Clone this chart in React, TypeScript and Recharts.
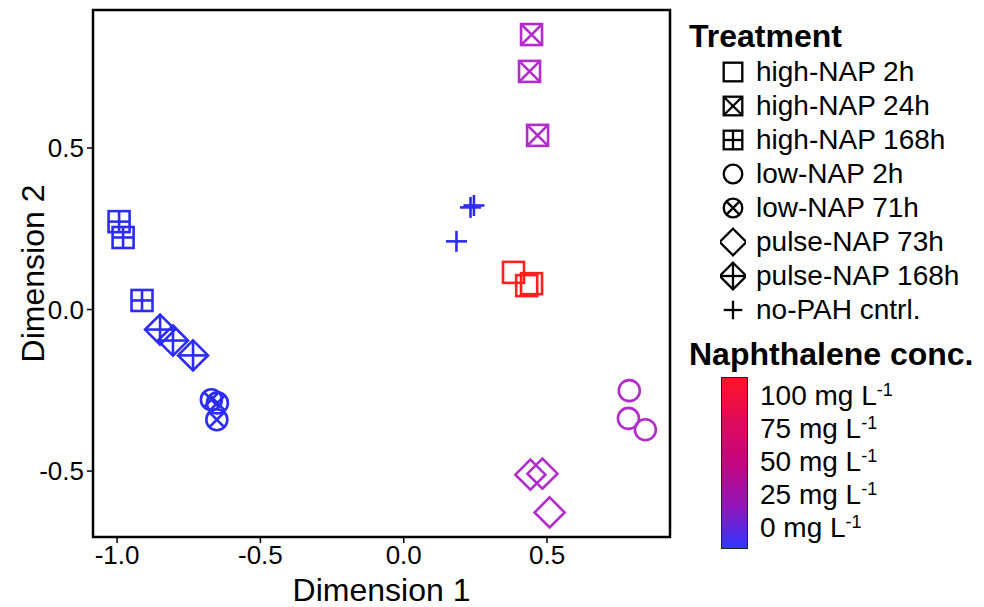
import React from 'react';
import { ScatterChart, Scatter, XAxis, YAxis, ReferenceArea } from 'recharts';

// NMDS coordinates
const highNap2h = [{ x: 0.383, y: 0.115 }, { x: 0.429, y: 0.074 }, { x: 0.446, y: 0.080 }];
const highNap24h = [{ x: 0.446, y: 0.851 }, { x: 0.439, y: 0.737 }, { x: 0.467, y: 0.539 }];
const highNap168h = [{ x: -0.993, y: 0.272 }, { x: -0.979, y: 0.223 }, { x: -0.913, y: 0.028 }];
const lowNap2h = [{ x: 0.787, y: -0.251 }, { x: 0.784, y: -0.337 }, { x: 0.843, y: -0.372 }];
const lowNap71h = [{ x: -0.671, y: -0.279 }, { x: -0.650, y: -0.289 }, { x: -0.652, y: -0.341 }];
const pulseNap73h = [{ x: 0.442, y: -0.511 }, { x: 0.484, y: -0.508 }, { x: 0.509, y: -0.628 }];
const pulseNap168h = [{ x: -0.850, y: -0.062 }, { x: -0.805, y: -0.096 }, { x: -0.735, y: -0.142 }];
const noPah = [{ x: 0.233, y: 0.316 }, { x: 0.245, y: 0.322 }, { x: 0.184, y: 0.211 }];

const treatmentNames = ['high-NAP 2h', 'high-NAP 24h', 'high-NAP 168h', 'low-NAP 2h', 'low-NAP 71h', 'pulse-NAP 73h', 'pulse-NAP 168h', 'no-PAH cntrl.'];
const treatmentShapes = ['square', 'squareX', 'squarePlus', 'circle', 'circleX', 'diamond', 'diamondPlus', 'plus'];
const treatmentColors = ['#ff2020', '#b22ccc', '#2c2cf6', '#b22ccc', '#2c2cf6', '#b22ccc', '#2c2cf6', '#2c2cf6'];
const treatmentData = [highNap2h, highNap24h, highNap168h, lowNap2h, lowNap71h, pulseNap73h, pulseNap168h, noPah];

const concLabels = ['100', '75', '50', '25', '0'];

const xTicks = [-1, -0.5, 0, 0.5];
const yTicks = [-0.5, 0, 0.5];
const xDomain = [-1.084, 0.929];
const yDomain = [-0.704, 0.927];

const FONT = '"Liberation Sans", Arial, sans-serif';

function Marker({ kind, color, cx, cy, s, sw }: any) {
  const d = s * 1.43;
  const c = s * 0.707;
  const p = { stroke: color, strokeWidth: sw, fill: 'none' };
  switch (kind) {
    case 'square':
      return <rect x={cx - s} y={cy - s} width={2 * s} height={2 * s} {...p} />;
    case 'squareX':
      return (
        <g {...p}>
          <rect x={cx - s} y={cy - s} width={2 * s} height={2 * s} />
          <line x1={cx - s} y1={cy - s} x2={cx + s} y2={cy + s} />
          <line x1={cx - s} y1={cy + s} x2={cx + s} y2={cy - s} />
        </g>
      );
    case 'squarePlus':
      return (
        <g {...p}>
          <rect x={cx - s} y={cy - s} width={2 * s} height={2 * s} />
          <line x1={cx} y1={cy - s} x2={cx} y2={cy + s} />
          <line x1={cx - s} y1={cy} x2={cx + s} y2={cy} />
        </g>
      );
    case 'circle':
      return <circle cx={cx} cy={cy} r={s} {...p} />;
    case 'circleX':
      return (
        <g {...p}>
          <circle cx={cx} cy={cy} r={s} />
          <line x1={cx - c} y1={cy - c} x2={cx + c} y2={cy + c} />
          <line x1={cx - c} y1={cy + c} x2={cx + c} y2={cy - c} />
        </g>
      );
    case 'diamond':
      return <polygon points={`${cx},${cy - d} ${cx + d},${cy} ${cx},${cy + d} ${cx - d},${cy}`} {...p} />;
    case 'diamondPlus':
      return (
        <g {...p}>
          <polygon points={`${cx},${cy - d} ${cx + d},${cy} ${cx},${cy + d} ${cx - d},${cy}`} />
          <line x1={cx} y1={cy - d} x2={cx} y2={cy + d} />
          <line x1={cx - d} y1={cy} x2={cx + d} y2={cy} />
        </g>
      );
    default:
      return (
        <g {...p}>
          <line x1={cx} y1={cy - s} x2={cx} y2={cy + s} />
          <line x1={cx - s} y1={cy} x2={cx + s} y2={cy} />
        </g>
      );
  }
}

const makeShape = (kind: string, color: string) => (props: any) => (
  <Marker kind={kind} color={color} cx={props.cx} cy={props.cy} s={10.5} sw={2.6} />
);

function TreatmentLegend() {
  return (
    <div style={{ position: 'absolute', left: 689, top: 19, fontFamily: FONT, color: '#000' }}>
      <div style={{ fontWeight: 700, fontSize: 32, lineHeight: '34px', height: 36, whiteSpace: 'nowrap' }}>Treatment</div>
      {treatmentNames.map((name, i) => (
        <div key={name} style={{ display: 'flex', alignItems: 'center', height: 34, fontSize: 28, whiteSpace: 'nowrap' }}>
          <svg width={26} height={30} style={{ marginLeft: 31, marginRight: 10 }}>
            <Marker kind={treatmentShapes[i]} color="#000" cx={13} cy={15} s={9.3} sw={2.3} />
          </svg>
          <span style={{ lineHeight: '34px' }}>{name}</span>
        </div>
      ))}
      <div style={{ fontWeight: 700, fontSize: 32, lineHeight: '34px', height: 34, marginTop: 10, whiteSpace: 'nowrap' }}>
        Naphthalene conc.
      </div>
      <div style={{ position: 'relative', height: 180, marginTop: 6 }}>
        <div
          style={{
            position: 'absolute', left: 32, top: 0, width: 25, height: 170,
            border: '1.5px solid #222',
            background: 'linear-gradient(to bottom, #ff1428 0%, #e00a5a 25%, #c4067f 50%, #9215b8 75%, #3036ff 100%)',
          }}
        />
        {concLabels.map((lab, i) => (
          <div key={lab} style={{ position: 'absolute', left: 71, top: 19 + i * 33 - 17, fontSize: 28, lineHeight: '34px', whiteSpace: 'nowrap' }}>
            {lab} mg L<sup style={{ fontSize: 18, verticalAlign: 'top', lineHeight: '22px' }}>-1</sup>
          </div>
        ))}
      </div>
    </div>
  );
}

export default function App() {
  const tickStyle = { fill: '#000', fontSize: 26, fontFamily: FONT };
  return (
    <div style={{ position: 'absolute', left: 0, top: 0, width: 984, height: 607, background: '#fff', fontFamily: FONT }}>
      <ScatterChart width={984} height={607} margin={{ top: 10, right: 314, bottom: 10, left: 0 }}>
        <XAxis
          type="number" dataKey="x" domain={xDomain} ticks={xTicks} allowDataOverflow
          tickFormatter={(v) => v.toFixed(1)} height={60} tick={tickStyle}
          axisLine={{ stroke: '#000', strokeWidth: 2 }} tickLine={{ stroke: '#000', strokeWidth: 1.5 }}
          tickSize={6} tickMargin={3}
          label={{ value: 'Dimension 1', position: 'center', dy: 23, fill: '#000', fontSize: 32, fontFamily: FONT }}
        />
        <YAxis
          type="number" dataKey="y" domain={yDomain} ticks={yTicks} allowDataOverflow
          tickFormatter={(v) => v.toFixed(1)} width={93} tick={tickStyle}
          axisLine={{ stroke: '#000', strokeWidth: 2 }} tickLine={{ stroke: '#000', strokeWidth: 1.5 }}
          tickSize={6} tickMargin={3}
          label={{ value: 'Dimension 2', position: 'center', angle: -90, dx: -14, fill: '#000', fontSize: 32, fontFamily: FONT }}
        />
        <ReferenceArea x1={xDomain[0]} x2={xDomain[1]} y1={yDomain[0]} y2={yDomain[1]} fill="none" stroke="#000" strokeWidth={2.5} fillOpacity={0} />
        {treatmentData.map((data, i) => (
          <Scatter
            key={treatmentNames[i]}
            name={treatmentNames[i]}
            data={data}
            shape={makeShape(treatmentShapes[i], treatmentColors[i])}
            isAnimationActive={false}
          />
        ))}
      </ScatterChart>
      <TreatmentLegend />
    </div>
  );
}
